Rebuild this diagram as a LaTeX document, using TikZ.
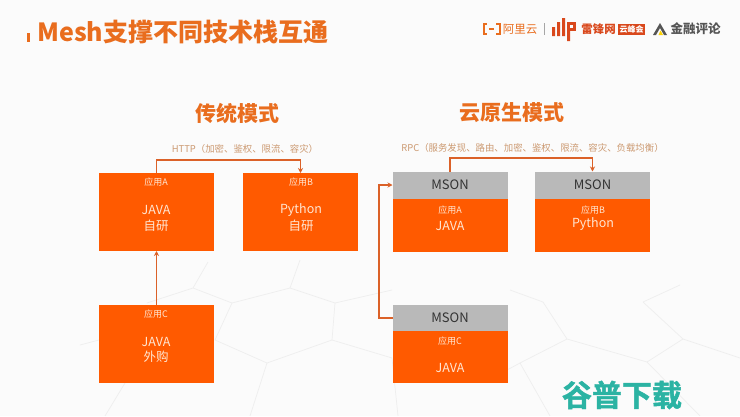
\documentclass[tikz,border=0pt]{standalone}
\usepackage{fontspec}
\setmainfont{Noto Sans CJK SC}
\newfontfamily\wmfont[FakeBold=1.5,BoldFont={Noto Sans CJK SC Bold}]{Noto Sans CJK SC Bold}
\usetikzlibrary{arrows.meta}
\definecolor{boxor}{HTML}{FF5A00}
\definecolor{linkor}{HTML}{DB6128}
\definecolor{heador}{HTML}{E96D1E}
\definecolor{labelor}{HTML}{CC9A72}
\definecolor{boxgrey}{HTML}{B9B9B9}
\definecolor{hexl}{HTML}{EEEEEE}
\definecolor{bgc}{HTML}{FBFBFB}
\definecolor{boxtxt}{HTML}{FFE6D2}
\definecolor{wm}{HTML}{2BB3A3}
\definecolor{logog}{HTML}{555555}
\definecolor{logor}{HTML}{D9481C}
\tikzset{
  x=1pt,y=-1pt,
  block/.style={fill=boxor,draw=none,minimum width=115pt,minimum height=78pt,inner sep=0pt,outer sep=0pt,anchor=north west},
  msonbox/.style={fill=boxgrey,draw=none,minimum width=115pt,minimum height=27pt,inner sep=0pt,outer sep=0pt,anchor=north west,text=black!80,font=\fontsize{13}{13}\selectfont},
  bodybox/.style={fill=boxor,draw=none,minimum width=115pt,inner sep=0pt,outer sep=0pt,anchor=north west},
  small/.style={text=boxtxt,inner sep=0pt,yshift=-0.7pt,font=\fontsize{9}{9}\selectfont},
  big/.style={text=boxtxt,inner sep=0pt,yshift=-1pt,font=\fontsize{12.5}{12.5}\selectfont},
  head/.style={text=heador,inner sep=0pt,yshift=-1pt,font=\fontsize{21}{21}\bfseries\selectfont},
  proto/.style={text=labelor,inner sep=0pt,font=\fontsize{9.4}{9.4}\selectfont},
  link/.style={draw=linkor,line width=1.3pt,-{Stealth[length=5pt,width=5pt]}},
  hex/.style={draw=hexl,line width=0.7pt},
}
\begin{document}
\begin{tikzpicture}
\useasboundingbox (0,0) rectangle (740,416);
\fill[bgc] (0,0) rectangle (740,416);
% faint hexagon pattern in the background
\draw[hex] (232,303)--(290,288)--(335,303)--(332,340)--(267,363)--(215,340)--cycle;
\draw[hex] (290,288)--(300,260) (335,303)--(392,290) (332,340)--(392,358)--(398,416);
\draw[hex] (267,363)--(250,416) (232,303)--(193,288)--(147,303) (193,288)--(208,262);
\draw[hex] (543,302)--(567,339)--(520,363)--(550,416) (567,339)--(647,362)--(683,339)--(643,302);
\draw[hex] (647,362)--(700,416) (683,339)--(740,358) (643,302)--(680,285) (543,302)--(510,290);
\draw[hex] (125,383)--(105,416) (99,340)--(80,345);
\draw[hex] (520,363)--(507,370);

% title
\fill[heador] (27,33) rectangle (29.5,42);
\node[anchor=west,inner sep=0pt,text=heador,font=\fontsize{25}{25}\bfseries\selectfont] (title) at (37,32) {Mesh支撑不同技术栈互通};

% logos
\draw[heador,line width=2pt] (487,24)--(483.5,24)--(483.5,34)--(487,34) (496,24)--(500,24)--(500,34)--(496,34) (489,29)--(494,29);
\node[text=heador,inner sep=0pt,font=\fontsize{11.5}{11.5}\selectfont] (aliyun) at (520,29) {阿里云};
\draw[black!35,line width=0.6pt] (544,23)--(544,35);
\fill[logor] (552,27) rectangle (555,36) (557,22) rectangle (560,36) (562,18) rectangle (565,36) (567,22) rectangle (570,41);
\fill[logor] (570,22) rectangle (576,31);
\fill[bgc] (570,25) rectangle (573,28);
\node[text=logor,inner sep=0pt,font=\fontsize{11.5}{11.5}\bfseries\selectfont] (leifeng) at (598.5,29) {雷锋网};
\node[fill=logor,text=white,inner sep=0pt,minimum width=27pt,minimum height=11pt,font=\fontsize{8}{8}\bfseries\selectfont] (summit) at (631.5,29) {云峰会};
\fill[logog] (653,35)--(660,23)--(667,35)--(664,35)--(660,28)--(656,35)--cycle;
\fill[yellow!70!orange] (658.5,35)--(660.5,30.5)--(663,35)--cycle;
\node[text=logog,inner sep=0pt,font=\fontsize{12.5}{12.5}\bfseries\selectfont] (jinrong) at (695.5,29) {金融评论};

% headings
\node[head] (h1) at (237,112) {传统模式};
\node[head] (h2) at (512,112) {云原生模式};
\node[proto] (p1) at (245,149) {HTTP（加密、鉴权、限流、容灾）};
\node[proto] (p2) at (532.5,148) {RPC（服务发现、路由、加密、鉴权、限流、容灾、负载均衡）};

% left column
\node[block] (a) at (99,173) {};
\node[block] (b) at (243,173) {};
\node[block] (c) at (99,305) {};
\node[small] (a1) at (156,181) {应用A};
\node[big] (a2) at (156,209) {JAVA};
\node[big] (a3) at (156,225) {自研};
\node[small] (b1) at (301,181) {应用B};
\node[big] (b2) at (301,209) {Python};
\node[big] (b3) at (301,225) {自研};
\node[small] (c1) at (156,313) {应用C};
\node[big] (c2) at (156,341) {JAVA};
\node[big] (c3) at (156,356) {外购};

% right column
\node[msonbox] (ma) at (392.5,171.5) {\raisebox{-1pt}{MSON}};
\node[bodybox,minimum height=53pt] (ra) at (392.5,198.5) {};
\node[msonbox] (mb) at (535,171.5) {\raisebox{-1pt}{MSON}};
\node[bodybox,minimum height=53pt] (rb) at (535,198.5) {};
\node[msonbox] (mc) at (392.5,304.5) {\raisebox{-1pt}{MSON}};
\node[bodybox,minimum height=52pt] (rc) at (392.5,331) {};
\node[small] (ra1) at (450,209) {应用A};
\node[big] (ra2) at (450,225) {JAVA};
\node[small] (rb1) at (593,209) {应用B};
\node[big] (rb2) at (593,222.5) {Python};
\node[small] (rc1) at (450,340) {应用C};
\node[big] (rc2) at (450,367) {JAVA};

% connectors
\draw[link] (a.north) -- ++(0,-13) -| (b.north);
\draw[link] (c.north) -- (a.south);
\draw[link] (ma.north) -- ++(0,-13.5) -| (mb.north);
\draw[link] (mc.west) -- ++(-13.5,0) |- (ma.west);

% watermark
\node[text=wm,inner sep=0pt,font=\fontsize{30}{30}\wmfont] (wmark) at (622,395) {谷普下载};
\end{tikzpicture}
\end{document}
